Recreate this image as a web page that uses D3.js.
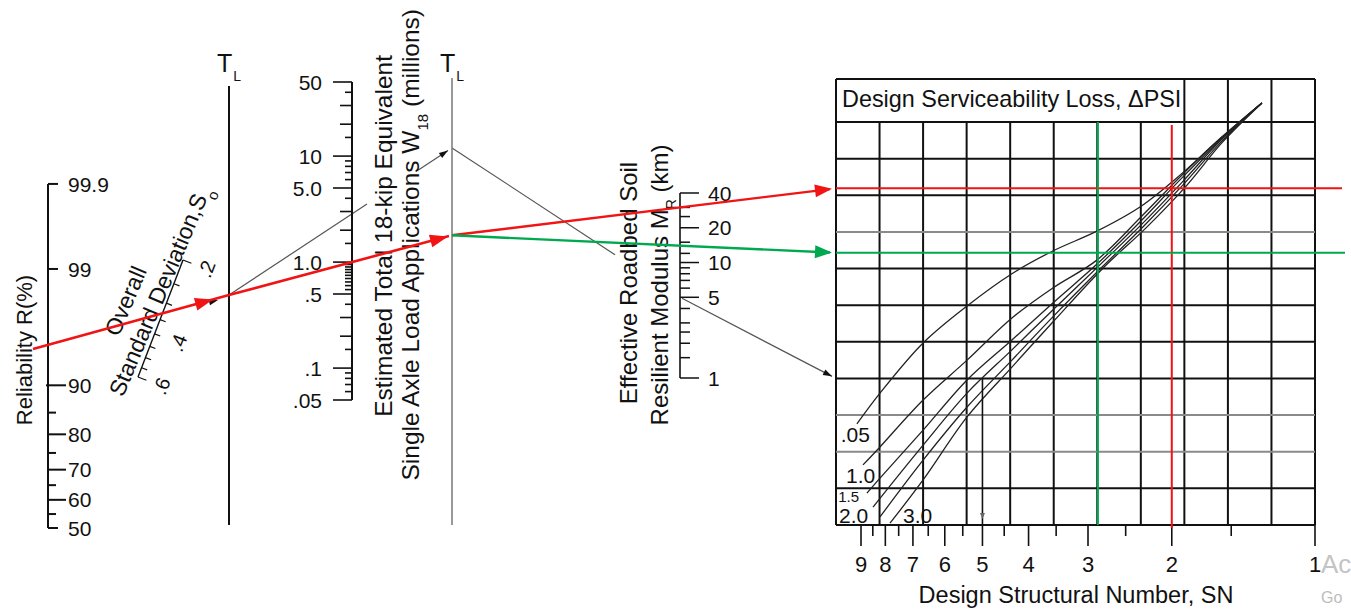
<!DOCTYPE html>
<html>
<head>
<meta charset="utf-8">
<script src="https://cdn.jsdelivr.net/npm/d3@7"></script>
<style>
  body { margin: 0; background: #fff; }
  svg { display: block; font-family: "Liberation Sans", Arial, Helvetica, sans-serif; }
</style>
</head>
<body>
<div id="chart"></div>
<script>
// Reliability R (%) scale
var relMajor = [99.9, 99, 90, 80, 70, 60, 50];
var relMinor = [85, 75, 65, 55];

// Overall standard deviation So
var soTicks = [0.2, 0.25, 0.3, 0.35, 0.4, 0.45, 0.5, 0.55, 0.6];
var soLabels = [0.2, 0.4, 0.6];

// W18 (millions)
var w18Major = [50, 10, 5, 1, 0.5, 0.1, 0.05];
var w18MajorText = ["50", "10", "5.0", "1.0", ".5", ".1", ".05"];
var w18Mid = [0.2, 0.3, 2, 3, 20, 30];
var w18Minor = [0.06, 0.07, 0.08, 0.09, 0.15, 0.4, 0.55, 0.6, 0.65, 0.7, 0.75, 0.8, 0.85, 0.9, 0.95, 1.5, 4, 6, 7, 8, 9, 15, 40];

// Roadbed resilient modulus MR
var mrMajor = [40, 20, 10, 5, 1];
var mrMinor = [30, 25, 15, 12, 9, 8, 7, 6, 4, 3, 2.5, 2, 1.5];

// Structural number axis
var snMajor = [9, 8, 7, 6, 5, 4, 3, 2, 1];
var snMinor = [8.5, 7.5, 6.5, 5.5, 4.5, 3.5, 2.5, 1.5];

// Delta PSI curves, read in grid units [column, row]
var psiCurves = [
  [[0.48, 2.76], [1.01, 3.60], [2.00, 4.97], [3.01, 5.98], [4.04, 6.86], [4.98, 7.48], [5.99, 8.02], [6.98, 8.68], [7.90, 9.55], [8.82, 10.55], [9.78, 11.52]],
  [[0.62, 1.64], [1.01, 2.13], [2.00, 3.41], [3.01, 4.50], [4.04, 5.65], [4.98, 6.47], [5.99, 7.23], [6.98, 8.38], [7.90, 9.50], [8.82, 10.54], [9.78, 11.52]],
  [[0.71, 0.87], [1.01, 1.28], [2.00, 2.59], [3.01, 3.96], [4.04, 5.05], [4.98, 6.06], [6.02, 7.15], [6.98, 8.27], [7.90, 9.42], [8.82, 10.51], [9.78, 11.52]],
  [[0.85, 0.49], [2.00, 2.18], [3.01, 3.60], [4.04, 4.78], [4.98, 5.87], [6.06, 7.10], [7.03, 8.22], [7.95, 9.36], [8.82, 10.48], [9.78, 11.52]],
  [[1.01, 0.22], [2.00, 1.77], [3.01, 3.22], [4.04, 4.50], [4.98, 5.68], [6.11, 7.04], [7.07, 8.16], [7.99, 9.31], [8.84, 10.45], [9.78, 11.52]],
  [[1.24, 0.05], [2.00, 1.23], [3.01, 2.95], [4.04, 4.31], [4.98, 5.54], [6.13, 7.01], [7.12, 8.11], [8.04, 9.25], [8.86, 10.43], [9.78, 11.52]]
];
var psiLabels = [".05", "1.0", "1.5", "2.0", "3.0"];
var psiLabelPos = [[0.11, 2.27], [0.23, 1.15], [0.05, 0.63], [0.07, 0.05], [1.54, 0.05]];

// solution lines drawn on the nomograph
var redRun = { R: 95, So: 0.33, W18: 1.0, MR: 30, SN: 2.0 };
var greenRun = { MR: 14, SN: 2.86 };
var greyRun = { W18: 2.85, MR: 5, row: 4, SN: 5 };

var width = 1351, height = 612;
var ink = "#111";
var red = "#f01414", green = "#00a84f", grey = "#555";

var svg = d3.select("#chart").append("svg")
  .attr("width", width)
  .attr("height", height);

var gGrid = svg.append("g");
var gCurves = svg.append("g");
var gGrey = svg.append("g");
var gScales = svg.append("g");
var gText = svg.append("g");
var gRun = svg.append("g");

function probit(p) {
  var q = p < 0.5 ? p : 1 - p;
  var t = Math.sqrt(-2 * Math.log(q));
  var z = t - (2.515517 + 0.802853 * t + 0.010328 * t * t) /
    (1 + 1.432788 * t + 0.189269 * t * t + 0.001308 * t * t * t);
  return p < 0.5 ? -z : z;
}

function yAt(p0, p1, x) {
  return p0[1] + (p1[1] - p0[1]) * (x - p0[0]) / (p1[0] - p0[0]);
}

function seg(g, p0, p1, x0, x1, color, w) {
  g.append("line")
    .attr("x1", x0).attr("y1", yAt(p0, p1, x0))
    .attr("x2", x1).attr("y2", yAt(p0, p1, x1))
    .attr("stroke", color).attr("stroke-width", w);
}

function arrow(g, from, tip, len, hw, color) {
  var dx = tip[0] - from[0], dy = tip[1] - from[1];
  var L = Math.hypot(dx, dy), ux = dx / L, uy = dy / L;
  var bx = tip[0] - ux * len, by = tip[1] - uy * len;
  g.append("path")
    .attr("d", "M" + tip + "L" + [bx - uy * hw, by + ux * hw] + "L" + [bx + uy * hw, by - ux * hw] + "Z")
    .attr("fill", color);
}

function label(g, x, y, txt, size, anchor) {
  return g.append("text")
    .attr("x", x).attr("y", y)
    .attr("font-size", size)
    .attr("text-anchor", anchor || "start")
    .attr("fill", ink)
    .text(txt);
}

// ---------- Reliability scale ----------
var relX = 48;
var zScale = d3.scaleLinear().domain([0, 3.09]).range([528, 184]);
var relY = function(r) { return zScale(probit(r / 100)); };

gScales.append("line")
  .attr("x1", relX).attr("x2", relX)
  .attr("y1", relY(50)).attr("y2", relY(99.9))
  .attr("stroke", ink).attr("stroke-width", 2);

gScales.selectAll(".relMajor").data(relMajor).enter().append("line")
  .attr("x1", function(d) { return d === 90 ? relX - 2 : relX; })
  .attr("x2", function(d) { return relX + (d > 95 || d === 50 ? 10 : 18); })
  .attr("y1", relY).attr("y2", relY)
  .attr("stroke", ink).attr("stroke-width", 2);

gScales.selectAll(".relMinor").data(relMinor).enter().append("line")
  .attr("x1", relX).attr("x2", relX + 8)
  .attr("y1", relY).attr("y2", relY)
  .attr("stroke", ink).attr("stroke-width", 2);

gScales.selectAll(".relLab").data(relMajor).enter().append("text")
  .attr("x", relX + 20).attr("y", relY).attr("dy", "0.36em")
  .attr("font-size", 21).attr("fill", ink)
  .text(function(d) { return d; });

gText.append("text")
  .attr("transform", "translate(32,350) rotate(-90)")
  .attr("text-anchor", "middle").attr("font-size", 22).attr("fill", ink)
  .text("Reliability R(%)");

// ---------- Standard deviation scale (slanted, log spaced) ----------
var p06 = [138, 377], p02 = [183, 260];
var soT = d3.scaleLog().domain([0.6, 0.2]).range([0, 1]);
var soPoint = function(v) {
  var t = soT(v);
  return [p06[0] + t * (p02[0] - p06[0]), p06[1] + t * (p02[1] - p06[1])];
};
var soLen = Math.hypot(p02[0] - p06[0], p02[1] - p06[1]);
var soN = [-(p02[1] - p06[1]) / soLen, (p02[0] - p06[0]) / soLen]; // points to lower right
var soAngle = Math.atan2(p02[1] - p06[1], p02[0] - p06[0]) * 180 / Math.PI;

gScales.append("line")
  .attr("x1", p06[0]).attr("y1", p06[1]).attr("x2", p02[0]).attr("y2", p02[1])
  .attr("stroke", ink).attr("stroke-width", 1.4);

gScales.selectAll(".soTick").data(soTicks).enter().append("line")
  .attr("x1", function(d) { return soPoint(d)[0]; })
  .attr("y1", function(d) { return soPoint(d)[1]; })
  .attr("x2", function(d) { var l = (d === 0.2 || d === 0.6) ? 9 : 6; return soPoint(d)[0] + soN[0] * l; })
  .attr("y2", function(d) { var l = (d === 0.2 || d === 0.6) ? 9 : 6; return soPoint(d)[1] + soN[1] * l; })
  .attr("stroke", ink).attr("stroke-width", 1.2);

gScales.selectAll(".soLab").data(soLabels).enter().append("text")
  .attr("transform", function(d) {
    var p = soPoint(d);
    return "translate(" + (p[0] + soN[0] * 25) + "," + (p[1] + soN[1] * 25) + ") rotate(" + soAngle + ")";
  })
  .attr("text-anchor", "middle").attr("dy", "0.36em")
  .attr("font-size", 20).attr("fill", ink)
  .text(function(d) { return String(d).replace("0.", "."); });

gText.append("text")
  .attr("transform", "translate(133,304) rotate(-67)")
  .attr("text-anchor", "middle").attr("font-size", 23).attr("fill", ink)
  .text("Overall");

var sdText = gText.append("text")
  .attr("transform", "translate(167,294) rotate(-67)")
  .attr("text-anchor", "middle").attr("font-size", 23).attr("fill", ink)
  .text("Standard Deviation,S");
sdText.append("tspan").attr("font-size", 15).attr("baseline-shift", "sub").text("o");

// ---------- Turning lines ----------
var tl1X = 229, tl2X = 452;
gScales.append("line")
  .attr("x1", tl1X).attr("x2", tl1X).attr("y1", 86).attr("y2", 525)
  .attr("stroke", ink).attr("stroke-width", 2);
gScales.append("line")
  .attr("x1", tl2X).attr("x2", tl2X).attr("y1", 78).attr("y2", 525)
  .attr("stroke", "#777").attr("stroke-width", 1.5);

[tl1X, tl2X].forEach(function(x) {
  var t = label(gText, x - 12, 72, "T", 25);
  t.append("tspan").attr("font-size", 14).attr("dy", 9).attr("dx", 1).text("L");
});

// ---------- W18 scale ----------
var w18X = 352;
var w18Scale = d3.scaleLog().domain([0.05, 50]).range([400, 82]);

gScales.append("line")
  .attr("x1", w18X).attr("x2", w18X)
  .attr("y1", w18Scale(0.05)).attr("y2", w18Scale(50))
  .attr("stroke", ink).attr("stroke-width", 2);

[[w18Major, 19], [w18Mid, 12], [w18Minor, 7]].forEach(function(set) {
  gScales.selectAll(null).data(set[0]).enter().append("line")
    .attr("x1", w18X - set[1]).attr("x2", w18X)
    .attr("y1", function(d) { return w18Scale(d); })
    .attr("y2", function(d) { return w18Scale(d); })
    .attr("stroke", ink).attr("stroke-width", 1.6);
});

gScales.selectAll(".w18Lab").data(w18Major).enter().append("text")
  .attr("x", 322).attr("y", function(d) { return w18Scale(d); }).attr("dy", "0.36em")
  .attr("text-anchor", "end").attr("font-size", 21).attr("fill", ink)
  .text(function(d, i) { return w18MajorText[i]; });

gText.append("text")
  .attr("transform", "translate(392,55) rotate(-90)")
  .attr("text-anchor", "end").attr("font-size", 24.5).attr("fill", ink)
  .text("Estimated Total 18-kip Equivalent");
var w18Title = gText.append("text")
  .attr("transform", "translate(419,9) rotate(-90)")
  .attr("text-anchor", "end").attr("font-size", 24.5).attr("fill", ink)
  .text("Single Axle Load Applications W");
w18Title.append("tspan").attr("font-size", 15).attr("baseline-shift", "sub").text("18");
w18Title.append("tspan").text(" (millions)");

// ---------- MR scale ----------
var mrX = 680;
var mrScale = d3.scaleLog().domain([1, 40]).range([378, 193]);

gScales.append("line")
  .attr("x1", mrX).attr("x2", mrX)
  .attr("y1", mrScale(1)).attr("y2", mrScale(40))
  .attr("stroke", ink).attr("stroke-width", 1.6);

[[mrMajor, 19], [mrMinor, 10]].forEach(function(set) {
  gScales.selectAll(null).data(set[0]).enter().append("line")
    .attr("x1", mrX).attr("x2", mrX + set[1])
    .attr("y1", function(d) { return mrScale(d); })
    .attr("y2", function(d) { return mrScale(d); })
    .attr("stroke", ink).attr("stroke-width", 1.5);
});

gScales.selectAll(".mrLab").data(mrMajor).enter().append("text")
  .attr("x", 708).attr("y", function(d) { return mrScale(d); }).attr("dy", "0.36em")
  .attr("font-size", 21).attr("fill", ink)
  .text(function(d) { return d; });

gText.append("text")
  .attr("transform", "translate(637,283) rotate(-90)")
  .attr("text-anchor", "middle").attr("font-size", 24).attr("fill", ink)
  .text("Effective Roadbed Soil");
var mrTitle = gText.append("text")
  .attr("transform", "translate(668,285) rotate(-90)")
  .attr("text-anchor", "middle").attr("font-size", 24).attr("fill", ink)
  .text("Resilient Modulus M");
mrTitle.append("tspan").attr("font-size", 14).attr("baseline-shift", "sub").text("R");
mrTitle.append("tspan").text(" (km)");

// ---------- Design chart ----------
var chartLeft = 836, chartRight = 1315, chartTop = 79;
var colScale = d3.scaleLinear().domain([0, 11]).range([chartLeft, chartRight]);
var rowScale = d3.scaleLinear().domain([0, 11]).range([525, 122]);
var snScale = d3.scaleLog().domain([9, 1]).range([861, 1315]);
var greyRows = [2, 3, 8];

gGrid.selectAll(".vgrid").data(d3.range(0, 12)).enter().append("line")
  .attr("x1", colScale).attr("x2", colScale)
  .attr("y1", function(d) { return (d === 0 || d >= 8) ? chartTop : rowScale(11); })
  .attr("y2", rowScale(0))
  .attr("stroke", ink).attr("stroke-width", 2);

gGrid.selectAll(".hgrid").data(d3.range(0, 12)).enter().append("line")
  .attr("x1", chartLeft).attr("x2", chartRight)
  .attr("y1", rowScale).attr("y2", rowScale)
  .attr("stroke", function(d) { return greyRows.indexOf(d) >= 0 ? "#8a8a8a" : ink; })
  .attr("stroke-width", 2);

gGrid.append("line")
  .attr("x1", chartLeft).attr("x2", chartRight).attr("y1", chartTop).attr("y2", chartTop)
  .attr("stroke", ink).attr("stroke-width", 2);

var title = label(gText, 842, 107, "Design Serviceability Loss, ", 23.4);
title.append("tspan").text("\u0394PSI");

var curveLine = d3.line()
  .x(function(d) { return colScale(d[0]); })
  .y(function(d) { return rowScale(d[1]); })
  .curve(d3.curveCatmullRom);

gCurves.selectAll(".psi").data(psiCurves).enter().append("path")
  .attr("d", curveLine)
  .attr("fill", "none").attr("stroke", "#222").attr("stroke-width", 1.3);

gText.selectAll(".psiLab").data(psiLabels).enter().append("text")
  .attr("x", function(d, i) { return colScale(psiLabelPos[i][0]); })
  .attr("y", function(d, i) { return rowScale(psiLabelPos[i][1]); })
  .attr("font-size", function(d) { return d === "1.5" ? 15 : 21; })
  .attr("fill", ink)
  .text(function(d) { return d; });

// SN axis
gGrid.selectAll(".snMaj").data(snMajor).enter().append("line")
  .attr("x1", snScale).attr("x2", snScale)
  .attr("y1", rowScale(0)).attr("y2", rowScale(0) + 21)
  .attr("stroke", ink).attr("stroke-width", 1.6);
gGrid.selectAll(".snMin").data(snMinor).enter().append("line")
  .attr("x1", snScale).attr("x2", snScale)
  .attr("y1", rowScale(0)).attr("y2", rowScale(0) + 11)
  .attr("stroke", ink).attr("stroke-width", 1.6);
gText.selectAll(".snLab").data(snMajor).enter().append("text")
  .attr("x", snScale).attr("y", 572)
  .attr("text-anchor", "middle").attr("font-size", 22).attr("fill", ink)
  .text(function(d) { return d; });
label(gText, 1076, 603, "Design Structural Number, SN", 23.5, "middle");

// ---------- Solution lines ----------
var pR = [relX, relY(redRun.R)];
var pSo = soPoint(redRun.So);
var pTL1 = [tl1X, yAt(pR, pSo, tl1X)];

var pW = [w18X, w18Scale(redRun.W18)];
var pTL2 = [tl2X, yAt(pTL1, pW, tl2X)];

var pWg = [w18X, w18Scale(greyRun.W18)];
var pTL2g = [tl2X, yAt(pTL1, pWg, tl2X)];

// grey example line
seg(gGrey, pR, pTL1, relX, tl1X, grey, 1.2);
arrow(gGrey, pR, [218, yAt(pR, pTL1, 218) + 2], 9, 3, ink);
seg(gGrey, pTL1, pTL2g, tl1X, 367, grey, 1.2);
seg(gGrey, pTL1, pTL2g, 418, tl2X - 4, grey, 1.2);
arrow(gGrey, pTL1, [tl2X - 4, yAt(pTL1, pTL2g, tl2X - 4)], 9, 3, ink);
var pMg = [mrX, mrScale(greyRun.MR)];
seg(gGrey, pTL2g, pMg, tl2X, 615, grey, 1.2);
var pCg = [chartLeft, rowScale(greyRun.row)];
seg(gGrey, pMg, pCg, mrX + 2, chartLeft - 4, grey, 1.2);
arrow(gGrey, pMg, [chartLeft - 4, yAt(pMg, pCg, chartLeft - 4)], 9, 3, ink);
var snX = snScale(greyRun.SN);
gGrey.append("line")
  .attr("x1", snX).attr("x2", snX).attr("y1", rowScale(greyRun.row)).attr("y2", rowScale(0))
  .attr("stroke", ink).attr("stroke-width", 1.6);
arrow(gGrey, [snX, rowScale(1)], [snX, rowScale(0) - 6], 6, 2.5, "#666");

// red run
seg(gRun, pR, pTL1, 33, tl1X, red, 2.6);
arrow(gRun, pR, [213, yAt(pR, pTL1, 213)], 18, 6.5, red);
seg(gRun, pTL1, pTL2, tl1X, tl2X - 3, red, 2.6);
arrow(gRun, pTL1, [tl2X - 4, yAt(pTL1, pTL2, tl2X - 4)], 18, 6.5, red);

var pMr = [mrX, mrScale(redRun.MR)];
var redY = yAt(pTL2, pMr, chartLeft);
seg(gRun, pTL2, pMr, tl2X, chartLeft - 6, red, 2.4);
arrow(gRun, pTL2, [chartLeft - 4, yAt(pTL2, pMr, chartLeft - 4)], 17, 6.5, red);
gRun.append("line")
  .attr("x1", chartLeft).attr("x2", 1342).attr("y1", redY).attr("y2", redY)
  .attr("stroke", red).attr("stroke-width", 2);
gRun.append("line")
  .attr("x1", snScale(redRun.SN)).attr("x2", snScale(redRun.SN))
  .attr("y1", rowScale(11) + 3).attr("y2", rowScale(0) + 3)
  .attr("stroke", red).attr("stroke-width", 2);

// green run
var pMg2 = [mrX, mrScale(greenRun.MR)];
var greenY = yAt(pTL2, pMg2, chartLeft);
seg(gRun, pTL2, pMg2, tl2X, chartLeft - 6, green, 2.4);
arrow(gRun, pTL2, [chartLeft - 4, yAt(pTL2, pMg2, chartLeft - 4)], 17, 6.5, green);
gRun.append("line")
  .attr("x1", chartLeft).attr("x2", 1345).attr("y1", greenY).attr("y2", greenY)
  .attr("stroke", green).attr("stroke-width", 2);
gRun.append("line")
  .attr("x1", snScale(greenRun.SN)).attr("x2", snScale(greenRun.SN))
  .attr("y1", rowScale(11)).attr("y2", rowScale(0))
  .attr("stroke", green).attr("stroke-width", 2);

// screen watermark, cut by the window edge
svg.append("text").attr("x", 1321).attr("y", 573)
  .attr("font-size", 26).attr("fill", "#c4c4c4").text("Ac");
svg.append("text").attr("x", 1321).attr("y", 603)
  .attr("font-size", 16).attr("fill", "#bdbdbd").text("Go");
</script>
</body>
</html>
